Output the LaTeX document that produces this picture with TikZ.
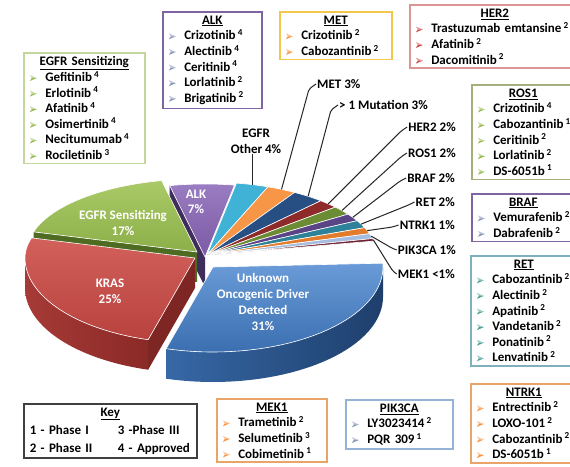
\documentclass[tikz,border=0pt]{standalone}
\usepackage{fontspec}
\setmainfont{Carlito}
\usetikzlibrary{calc}
% box border colours
\definecolor{cEGFRb}{HTML}{C3D69B}
\definecolor{cALKb}{HTML}{8064A2}
\definecolor{cMETb}{HTML}{F2C74A}
\definecolor{cHERb}{HTML}{D99694}
\definecolor{cROSb}{HTML}{A3B07C}
\definecolor{cRETb}{HTML}{7FB0BE}
\definecolor{cNTRb}{HTML}{E9A46A}
\definecolor{cPIKb}{HTML}{95B3D7}
\definecolor{cKeyb}{HTML}{3F3F3F}
% bullet colours
\definecolor{bGreen}{HTML}{9BBB59}
\definecolor{bGray}{HTML}{8C96B8}
\definecolor{bOrange}{HTML}{F79646}
\definecolor{bRed}{HTML}{D0504D}
\definecolor{bTeal}{HTML}{4FA39A}
% pie colours
\definecolor{pBlueT}{HTML}{6A9BD8}
\definecolor{pBlueB}{HTML}{3B6FB0}
\definecolor{pBlueS1}{HTML}{3768A6}
\definecolor{pBlueS2}{HTML}{1E3F6C}
\definecolor{pRedT}{HTML}{D2605B}
\definecolor{pRedB}{HTML}{B8423E}
\definecolor{pRedS1}{HTML}{A63A36}
\definecolor{pRedS2}{HTML}{8A2A27}
\definecolor{pGrnT}{HTML}{A9CA66}
\definecolor{pGrnB}{HTML}{8DAF4A}
\definecolor{pGrnS}{HTML}{4E6B22}
\definecolor{pAlkT}{HTML}{9A7CC2}
\definecolor{pAlkB}{HTML}{7A5AA3}
\definecolor{pAlkS}{HTML}{3F2D5C}
\definecolor{pCyan}{HTML}{3FB2D6}
\definecolor{pOrg}{HTML}{F79646}
\definecolor{pDBlue}{HTML}{284F84}
\definecolor{pDRed}{HTML}{8E2A2A}
\definecolor{pOlive}{HTML}{6B8C32}
\definecolor{pPurp}{HTML}{5B4486}
\definecolor{pTeal}{HTML}{2D8199}
\definecolor{pOrgB}{HTML}{E27C2C}
\definecolor{pLBlue}{HTML}{A3BCDF}
\definecolor{pMaroon}{HTML}{6E2436}
\definecolor{pKRSr}{HTML}{7E2624}
% pie geometry (image coordinates, y downwards)
\def\pcx{207}\def\pcy{255}\def\prx{170}\def\ryT{73}\def\ryB{85}\def\pdep{30}
\newcommand{\PX}[2]{\pcx+(#2)+\prx*cos(#1)}
\newcommand{\PY}[2]{\pcy+(#2)-sin(#1)*(\ryB+(sin(#1)>0)*(\ryT-\ryB))}
\newcommand{\ptop}[6]{\path[top color=#5, bottom color=#6, draw=white, line width=0.6pt, line join=round]
  ({\pcx+(#3)},{\pcy+(#4)}) -- plot[domain=#1:#2, samples=40, variable=\t] ({\PX{\t}{#3}},{\PY{\t}{#4}}) -- cycle;}
\newcommand{\pside}[6]{\path[left color=#5, right color=#6]
  plot[domain=#1:#2, samples=40, variable=\t] ({\PX{\t}{#3}},{\PY{\t}{#4}})
  -- plot[domain=#2:#1, samples=40, variable=\t] ({\PX{\t}{#3}},{\PY{\t}{#4}+\pdep}) -- cycle;}
\newcommand{\prad}[4]{\fill[#4] ({\pcx+(#2)},{\pcy+(#3)}) -- ({\PX{#1}{#2}},{\PY{#1}{#3}})
  -- ({\PX{#1}{#2}},{\PY{#1}{#3}+\pdep}) -- ({\pcx+(#2)},{\pcy+(#3)+\pdep}) -- cycle;}
% bullets and items
\newcommand{\arrb}[1]{\tikz[baseline=0pt]{\fill[#1!55!white] (0pt,6.5pt) -- (7pt,3.5pt) -- (2pt,3.5pt) -- cycle;
  \fill[#1] (0pt,0.5pt) -- (7pt,3.5pt) -- (2pt,3.5pt) -- cycle;}}
\newcommand{\itm}[3]{\par\mbox{\arrb{#1}\hspace{8.5pt}#2\,\textsuperscript{#3}}}
\begin{document}
\begin{tikzpicture}[x=1pt,y=-1pt,
  every node/.style={font=\bfseries\fontsize{13}{15.6}\selectfont},
  mbox/.style={draw=#1, line width=1.6pt, fill=white, anchor=north west, align=left, inner xsep=6pt, inner ysep=4pt},
  lbl/.style={text=black, inner sep=1pt},
  pietxt/.style={text=white, align=center, inner sep=0pt},
  lead/.style={draw=black!85, line width=1pt, rounded corners=2pt}]
\useasboundingbox (0,0) rectangle (570,466);
\clip (0,0) rectangle (570,466);
\fill[white] (0,0) rectangle (570,466);

% ---------- pie: side faces ----------
\prad{102}{-2}{2}{pAlkS}
\prad{164}{-10}{-3}{pGrnS}
\prad{-106}{-12}{3}{pKRSr}
\pside{-106}{-180}{-12}{3}{pRedS1}{pRedS2}
\pside{0}{-106}{6}{12}{pBlueS1}{pBlueS2}

% ---------- pie: top faces ----------
\ptop{80}{69}{0}{0}{pCyan}{pCyan}
\ptop{69}{59}{0}{0}{pOrg}{pOrg}
\ptop{59}{48}{0}{0}{pDBlue}{pDBlue}
\ptop{48}{41}{0}{0}{pDRed}{pDRed}
\ptop{41}{34}{0}{0}{pOlive}{pOlive}
\ptop{34}{28}{0}{0}{pPurp}{pPurp}
\ptop{28}{22}{0}{0}{pTeal}{pTeal}
\ptop{22}{17}{0}{0}{pOrgB}{pOrgB}
\ptop{17}{13}{0}{0}{pLBlue}{pLBlue}
\ptop{13}{11}{0}{0}{pMaroon}{pMaroon}
\ptop{102}{80}{-2}{2}{pAlkT}{pAlkB}
\ptop{164}{102}{-10}{-3}{pGrnT}{pGrnB}
\ptop{-106}{-196}{-12}{3}{pRedT}{pRedB}
\ptop{3}{-106}{6}{12}{pBlueT}{pBlueB}

% ---------- labels inside the pie ----------
\node[pietxt] (tALK) at (196,202) {ALK\\7\%};
\node[pietxt] (tEGFR) at (123,223) {EGFR Sensitizing\\17\%};
\node[pietxt] (tKRAS) at (110,291) {KRAS\\25\%};
\node[pietxt, font=\bfseries\fontsize{13}{16}\selectfont] (tUNK) at (263,302) {Unknown\\Oncogenic Driver\\Detected\\31\%};

% ---------- slice anchor points ----------
\coordinate (mEO)   at ({\PX{74.5}{0}},{\PY{74.5}{0}});
\coordinate (mMET)  at ({\PX{64}{0}},{\PY{64}{0}});
\coordinate (mMUT)  at ({\PX{53.5}{0}},{\PY{53.5}{0}});
\coordinate (mHER)  at ({\PX{44.5}{0}},{\PY{44.5}{0}});
\coordinate (mROS)  at ({\PX{37.5}{0}},{\PY{37.5}{0}});
\coordinate (mBRAF) at ({\PX{31}{0}},{\PY{31}{0}});
\coordinate (mRET)  at ({\PX{25}{0}},{\PY{25}{0}});
\coordinate (mNTRK) at ({\PX{19.5}{0}},{\PY{19.5}{0}});
\coordinate (mPIK)  at ({\PX{15}{0}},{\PY{15}{0}});
\coordinate (mMEK)  at ({\PX{12}{0}},{\PY{12}{0}});

% ---------- outside labels ----------
\node[lbl, align=center] (lEO) at (256,141) {EGFR\\Other 4\%};
\node[lbl, anchor=west] (lMET) at (316,84) {MET 3\%};
\node[lbl, anchor=west] (lMUT) at (338,105) {> 1 Mutation 3\%};
\node[lbl, anchor=east] (lHER) at (457,127) {HER2 2\%};
\node[lbl, anchor=east] (lROS) at (457,153) {ROS1 2\%};
\node[lbl, anchor=east] (lBRAF) at (456,178) {BRAF 2\%};
\node[lbl, anchor=east] (lRET) at (456,202) {RET 2\%};
\node[lbl, anchor=east] (lNTRK) at (456,225) {NTRK1 1\%};
\node[lbl, anchor=east] (lPIK) at (457,250) {PIK3CA 1\%};
\node[lbl, anchor=east] (lMEK) at (456,274) {MEK1 <1\%};

\draw[lead] (mEO) -- (mEO |- lEO.south);
\draw[lead] (lMET.west) -- ++(-7,5) -- (mMET);
\draw[lead] (lMUT.west) -- ++(-7,5) -- (mMUT);
\draw[lead] (lHER.west) -- ++(-6,4) -- (mHER);
\draw[lead] (lROS.west) -- ++(-6,4) -- (mROS);
\draw[lead] (lBRAF.west) -- ++(-6,3) -- (mBRAF);
\draw[lead] (lRET.west) -- ++(-6,3) -- (mRET);
\draw[lead] (lNTRK.west) -- ++(-6,2) -- (mNTRK);
\draw[lead] (lPIK.west) -- ++(-5,-2) -- (mPIK);
\draw[lead] (lMEK.west) -- ++(-4,-3) -- (mMEK);

% ---------- drug boxes ----------
\node[mbox=cEGFRb, text width=109pt] (bEGFR) at (23,52) {\centerline{\underline{EGFR Sensitizing}}%
  \itm{bGreen}{Gefitinib}{4}\itm{bGreen}{Erlotinib}{4}\itm{bGreen}{Afatinib}{4}%
  \itm{bGreen}{Osimertinib}{4}\itm{bGreen}{Necitumumab}{4}\itm{bGreen}{Rociletinib}{3}};
\node[mbox=cALKb, text width=87pt] (bALK) at (162,11) {\centerline{\underline{ALK}}%
  \itm{bGray}{Crizotinib}{4}\itm{bGray}{Alectinib}{4}\itm{bGray}{Ceritinib}{4}%
  \itm{bGray}{Lorlatinib}{2}\itm{bGray}{Brigatinib}{2}};
\node[mbox=cMETb, text width=100pt] (bMET) at (279,11) {\centerline{\underline{MET}}%
  \itm{bOrange}{Crizotinib}{2}\itm{bOrange}{Cabozantinib}{2}};
\node[mbox=cHERb, text width=158pt] (bHER) at (409,4) {\centerline{\underline{HER2}}%
  \itm{bRed}{Trastuzumab emtansine}{2}\itm{bRed}{Afatinib}{2}\itm{bRed}{Dacomitinib}{2}};
\node[mbox=cROSb, text width=91pt] (bROS) at (471,84) {\centerline{\underline{ROS1}}%
  \itm{bGreen}{Crizotinib}{4}\itm{bGreen}{Cabozantinib}{1}\itm{bGreen}{Ceritinib}{2}%
  \itm{bGreen}{Lorlatinib}{2}\itm{bGreen}{DS-6051b}{1}};
\node[mbox=cALKb, text width=91pt] (bBRAF) at (471,193) {\centerline{\underline{BRAF}}%
  \itm{bGray}{Vemurafenib}{2}\itm{bGray}{Dabrafenib}{2}};
\node[mbox=cRETb, text width=94pt] (bRET) at (470,255) {\centerline{\underline{RET}}%
  \itm{bTeal}{Cabozantinib}{2}\itm{bTeal}{Alectinib}{2}\itm{bTeal}{Apatinib}{2}%
  \itm{bTeal}{Vandetanib}{2}\itm{bTeal}{Ponatinib}{2}\itm{bTeal}{Lenvatinib}{2}};
\node[mbox=cNTRb, text width=94pt] (bNTRK) at (470,383) {\centerline{\underline{NTRK1}}%
  \itm{bOrange}{Entrectinib}{2}\itm{bOrange}{LOXO-101}{2}\itm{bOrange}{Cabozantinib}{2}%
  \itm{bOrange}{DS-6051b}{1}};
\node[mbox=cNTRb, text width=98pt] (bMEK) at (216,398) {\centerline{\underline{MEK1}}%
  \itm{bOrange}{Trametinib}{2}\itm{bOrange}{Selumetinib}{3}\itm{bOrange}{Cobimetinib}{1}};
\node[mbox=cPIKb, text width=95pt] (bPIK) at (345,399) {\centerline{\underline{PIK3CA}}%
  \itm{bGray}{LY3023414}{2}\itm{bGray}{PQR 309}{1}};
\node[mbox=cKeyb, text width=161pt, font=\bfseries\fontsize{13}{18}\selectfont] (bKey) at (23,403)
  {\centerline{\underline{Key}}\par\makebox[88pt][l]{1 - Phase I}3 -Phase III\par\makebox[88pt][l]{2 - Phase II}4 - Approved};
\end{tikzpicture}
\end{document}
